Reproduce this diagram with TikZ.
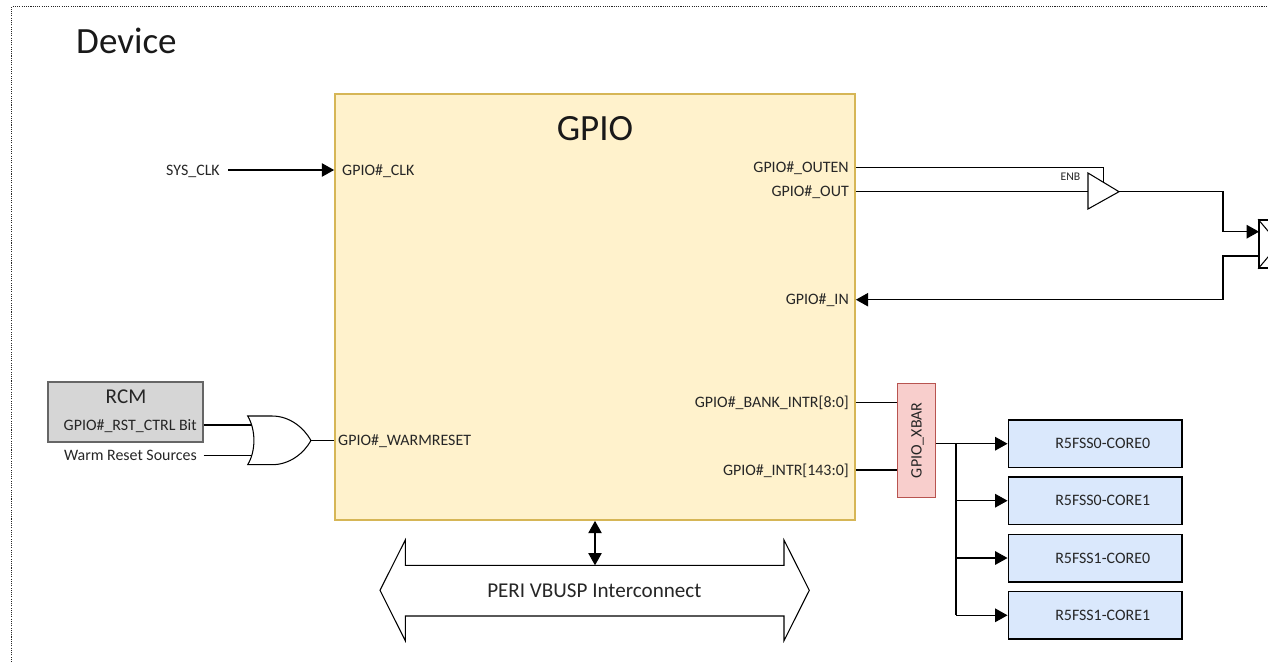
\documentclass[tikz,border=0pt]{standalone}
\usepackage{fontspec}
\setmainfont{Carlito}
\usetikzlibrary{arrows.meta}
\definecolor{corefill}{HTML}{DAE8FC}
\definecolor{gpiofill}{HTML}{FFF2CC}
\definecolor{gpioline}{HTML}{D6B656}
\definecolor{xbarfill}{HTML}{F8CECC}
\definecolor{xbarline}{HTML}{B85450}
\definecolor{rcmfill}{HTML}{D6D6D6}
\tikzset{
 sig/.style={inner sep=0, text height=8.75pt, text depth=0pt, text=black!85, font=\fontsize{13.6}{15}\selectfont},
 tiny sig/.style={inner sep=0, text=black!85, font=\fontsize{10}{12}\selectfont},
 headline/.style={inner sep=0, text=black!90, font=\fontsize{31.6}{34}\selectfont},
 subhead/.style={inner sep=0, text height=11.6pt, text depth=0pt, text=black!85, font=\fontsize{18}{20}\selectfont},
 wire/.style={black, line width=.9pt},
 arrowed/.style={wire, -{Triangle[length=10.5pt,width=11.5pt]}},
 both arrowed/.style={wire, {Triangle[length=10.5pt,width=11.5pt]}-{Triangle[length=10.5pt,width=11.5pt]}},
 corebox/.style={draw=black, fill=corefill, line width=1.4pt, minimum width=5.2cm, minimum height=1.42cm, inner sep=0},
}
\begin{document}
\begin{tikzpicture}[x=.03cm, y=-.03cm]
\clip[use as bounding box] (0,0) rectangle (1268,662);
\draw[black!85, line width=.9pt, densely dotted] (11.7,662)--(11.7,6.3)--(1268,6.3);
\node[headline, anchor=west] (device) at (76,41) {Device};
\node[draw=gpioline, fill=gpiofill, line width=1.5pt, inner sep=0, minimum width=15.6cm, minimum height=12.78cm] (gpio) at (595,307) {};
\node[headline] (gpiotitle) at (595,129) {GPIO};
\node[sig, anchor=west] (clkpin) at (342,170) {GPIO\#\_CLK};
\node[sig, anchor=west] (resetpin) at (338,440.5) {GPIO\#\_WARMRESET};
\node[sig, anchor=east] (outen) at (849,167.7) {GPIO\#\_OUTEN};
\node[sig, anchor=east] (outpin) at (849,191.7) {GPIO\#\_OUT};
\node[sig, anchor=east] (inpin) at (849,299.7) {GPIO\#\_IN};
\node[sig, anchor=east] (bankintr) at (849,402.3) {GPIO\#\_BANK\_INTR[8:0]};
\node[sig, anchor=east] (intr) at (849,470) {GPIO\#\_INTR[143:0]};
\node[sig, anchor=east, inner xsep=.24cm] (sysclk) at (228,170) {SYS\_CLK};
\draw[arrowed] (sysclk.east) -- (sysclk.east -| gpio.west);
\node[draw=black!60, fill=rcmfill, line width=1.2pt, inner sep=0, minimum width=4.65cm, minimum height=1.8cm] (rcm) at (125.5,412) {};
\node[subhead] (rcmtitle) at (126,397) {RCM};
\node[sig, anchor=east] (rstbit) at (197,425) {GPIO\#\_RST\_CTRL Bit};
\node[sig, anchor=east] (warm) at (197,455.7) {Warm Reset Sources};
\coordinate (orin1) at (252,425);
\coordinate (orin2) at (252,455.7);
\coordinate (orout) at (311,440.5);
\draw[wire, fill=white] (247.7,416) .. controls (256,430) and (256,451) .. (247.7,464.7) -- (272,464.7) .. controls (290,464.7) and (304,453) .. (orout) .. controls (304,428) and (290,416) .. (272,416) -- cycle;
\draw[wire] (rcm.east |- orin1) -- (orin1);
\draw[wire] (rcm.east |- orin2) -- (orin2);
\draw[wire] (orout) -- (orout -| gpio.west);
\coordinate (bufin) at (1088,191.7);
\coordinate (buftip) at (1119,191.7);
\coordinate (bufen) at (1103.3,182);
\draw[wire] (1088,173)--(buftip)--(1088,209)--cycle;
\node[tiny sig] (enb) at (1070.5,177) {ENB};
\draw[wire] (outen.east -| gpio.east) -| (bufen);
\draw[wire] (outpin.east -| gpio.east) -- (bufin);
\node[draw=black, line width=1.6pt, inner sep=0, minimum width=1.2cm, minimum height=1.43cm] (pad) at (1279,244) {};
\coordinate (padin) at (1259,231.7);
\coordinate (padout) at (1259,256);
\draw[wire] (pad.north west)--(pad.south east) (pad.south west)--(pad.north east);
\draw[arrowed] (buftip) -- (1223,191.7) |- (padin);
\draw[arrowed] (padout) -- (1223,256) |- (inpin.east -| gpio.east);
\node[draw=xbarline, fill=xbarfill, line width=1.3pt, inner sep=0, minimum width=1.15cm, minimum height=3.42cm] (xbar) at (916.5,440.3) {};
\node[sig, rotate=90] (xbarlabel) at (916.5,440.3) {GPIO\_XBAR};
\draw[wire] (bankintr.east -| gpio.east) -- (bankintr.east -| xbar.west);
\draw[wire] (intr.east -| gpio.east) -- (intr.east -| xbar.west);
\foreach \name/\y/\txt in {core0/443.7/R5FSS0-CORE0, core1/500.7/R5FSS0-CORE1, core2/558/R5FSS1-CORE0, core3/615.3/R5FSS1-CORE1} {
 \node[corebox] (\name) at (1095,\y) {};
 \node[sig] at (1102.7,\y) {\txt};
 \draw[arrowed] (956,\y) -- (\name.west);
}
\draw[wire] (xbar.east |- core0.west) -- (956,443.7) -- (956,615.3);
\coordinate (busjoin) at (595,565.3);
\draw[wire, fill=white] (380,590.3)--(405.3,540)--(405.3,565.3)--(busjoin)--(784,565.3)--(784,540)--(809.3,590.3)--(784,640.7)--(784,616)--(405.3,616)--(405.3,640.7)--cycle;
\node[subhead] (bus) at (594.3,590.3) {PERI VBUSP Interconnect};
\draw[both arrowed] (gpio.south -| busjoin) -- (busjoin);
\end{tikzpicture}
\end{document}
